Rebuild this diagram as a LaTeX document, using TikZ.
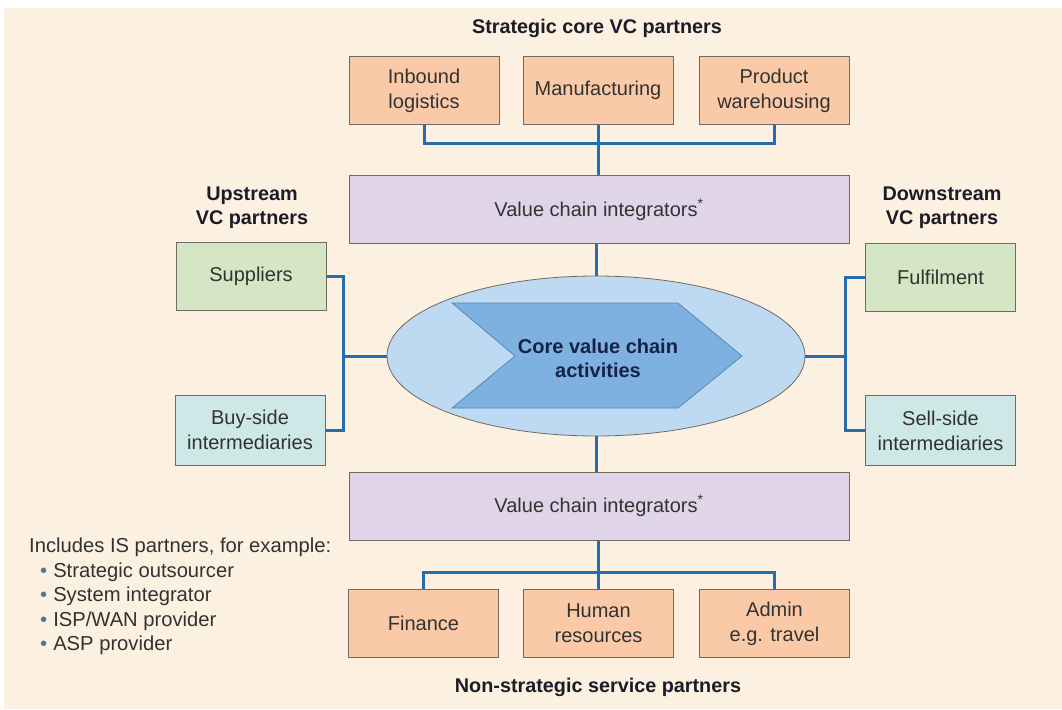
\documentclass[tikz,border=0pt]{standalone}
\usepackage{fontspec}
\setmainfont{Liberation Sans}
\usetikzlibrary{shapes.geometric,calc}
\definecolor{bgc}{RGB}{252,240,224}
\definecolor{orangebox}{RGB}{250,202,168}
\definecolor{purplebox}{RGB}{224,213,232}
\definecolor{greenbox}{RGB}{212,230,195}
\definecolor{cyanbox}{RGB}{205,232,230}
\definecolor{ellfill}{RGB}{190,218,242}
\definecolor{chevfill}{RGB}{126,176,224}
\definecolor{chevdraw}{RGB}{90,135,185}
\definecolor{boxline}{RGB}{115,105,100}
\definecolor{connc}{RGB}{38,108,175}
\definecolor{txt}{RGB}{50,50,50}
\definecolor{headc}{RGB}{28,28,40}
\definecolor{navy}{RGB}{20,35,70}
\definecolor{bulc}{RGB}{85,115,155}
\tikzset{
  basebox/.style={draw=boxline, line width=1pt, text=txt, align=center,
    inner sep=0pt, font=\fontsize{20}{25}\selectfont},
  orbox/.style={basebox, fill=orangebox, minimum width=150pt, minimum height=68pt},
  pubox/.style={basebox, fill=purplebox, minimum width=500pt, minimum height=68pt},
  grbox/.style={basebox, fill=greenbox, minimum width=150pt, minimum height=68pt},
  cybox/.style={basebox, fill=cyanbox, minimum width=150pt, minimum height=70pt},
  head/.style={text=headc, align=center, font=\bfseries\fontsize{19.8}{24}\selectfont},
  conn/.style={draw=connc, line width=3pt}
}
\begin{document}
\begin{tikzpicture}[x=1pt,y=-1pt]
\useasboundingbox (0,0) rectangle (1062,709);
\fill[white] (0,0) rectangle (1062,709);
\fill[bgc] (4,8) rectangle (1062,709);

% headings
\node[head] (t1) at (597,28) {Strategic core VC partners};
\node[head] (t2) at (598,687) {Non-strategic service partners};
\node[head] (up) at (252,208) {Upstream\\VC partners};
\node[head] (down) at (942,208) {Downstream\\VC partners};

% top boxes
\node[orbox] (inb) at (424,90.5) {Inbound\\logistics};
\node[orbox] (man) at (598,90.5) {Manufacturing};
\node[orbox] (prod) at (774,90.5) {Product\\warehousing};
\node[pubox] (vci1) at (599,209.5) {Value chain integrators\textsuperscript{*}};

% side boxes
\node[grbox] (sup) at (251,276) {Suppliers};
\node[cybox] (buy) at (250,430) {Buy-side\\intermediaries};
\node[grbox] (ful) at (940.5,277) {Fulfilment};
\node[cybox] (sell) at (940.5,430.5) {Sell-side\\intermediaries};

% bottom
\node[pubox] (vci2) at (599,506) {Value chain integrators\textsuperscript{*}};
\node[orbox] (fin) at (423.5,623.5) {Finance};
\node[orbox] (hr) at (598.5,623.5) {Human\\resources};
\node[orbox] (adm) at (774.5,623.5) {Admin\\e.g. travel};

% ellipse + chevron
\node[ellipse, draw=boxline, line width=0.8pt, fill=ellfill, minimum width=418pt, minimum height=160pt, inner sep=0pt] (ell) at (596,356) {};
\draw[draw=chevdraw, line width=0.8pt, fill=chevfill]
  (452,303) -- (678,303) -- (742,356) -- (678,408) -- (452,408) -- (515,356) -- cycle;
\node[text=navy, align=center, font=\bfseries\fontsize{20}{24}\selectfont] (core) at (598,358) {Core value chain\\activities};

% connectors
\coordinate (jt) at (598,143);
\coordinate (jl) at (343,356);
\coordinate (jr) at (845,356);
\coordinate (jb) at (598,572);
\draw[conn] (inb.south) |- (jt) -| (prod.south);
\draw[conn] (man.south) -- (vci1.north -| man.south);
\draw[conn] (vci1.south -| ell.north) -- (ell.north);
\draw[conn] (ell.south) -- (vci2.north -| ell.south);
\draw[conn] (sup.east) -| (jl) |- (buy.east);
\draw[conn] (jl) -- (ell.west);
\draw[conn] (ful.west) -| (jr) |- (sell.west);
\draw[conn] (jr) -- (ell.east);
\draw[conn] (fin.north) |- (jb) -| (adm.north);
\draw[conn] (vci2.south -| hr.north) -- (hr.north);

% notes
\node[text=txt, align=left, anchor=north west, inner sep=0pt, font=\fontsize{20.2}{24.5}\selectfont] (notes) at (29,538)
 {Includes IS partners, for example:\\
  \hspace*{11pt}{\color{bulc}\textbullet}\hspace{6pt}Strategic outsourcer\\
  \hspace*{11pt}{\color{bulc}\textbullet}\hspace{6pt}System integrator\\
  \hspace*{11pt}{\color{bulc}\textbullet}\hspace{6pt}ISP/WAN provider\\
  \hspace*{11pt}{\color{bulc}\textbullet}\hspace{6pt}ASP provider};
\end{tikzpicture}
\end{document}
